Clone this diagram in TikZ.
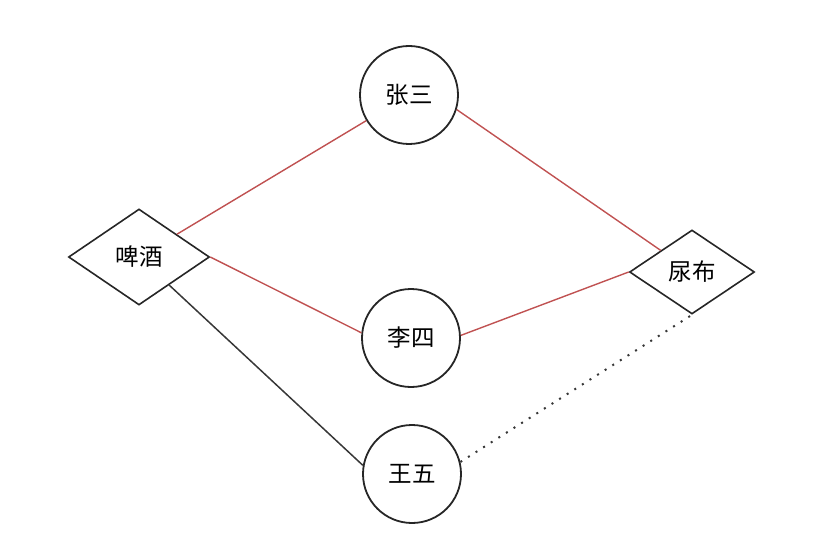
\documentclass[tikz,border=0pt]{standalone}
\usepackage{fontspec}
\setmainfont{Noto Sans CJK SC}
\usetikzlibrary{shapes.geometric}
\definecolor{linkred}{RGB}{192,82,82}
\definecolor{linkgray}{RGB}{55,55,55}
\begin{document}
\begin{tikzpicture}[x=1pt,y=-1pt,
  person/.style={circle, draw=black!85, line width=1.8pt, minimum size=98pt, inner sep=0pt, font=\fontsize{23.5}{26}\selectfont},
  item/.style={diamond, draw=black!85, line width=1.6pt, inner sep=0pt, font=\fontsize{23.5}{26}\selectfont},
  redlink/.style={draw=linkred, line width=1.4pt},
  graylink/.style={draw=linkgray, line width=1.5pt},
  dotlink/.style={draw=linkgray, line width=2pt, dash pattern=on 2pt off 7pt}]
\useasboundingbox (0,0) rectangle (824,540);
\node[person] (zs) at (409,95) {张三};
\node[person] (ls) at (411,338) {李四};
\node[person] (ww) at (412,474) {王五};
\node[item, minimum width=141pt, minimum height=96pt] (pj) at (139,257) {啤酒};
\node[item, minimum width=125pt, minimum height=84pt] (nb) at (692,272) {尿布};
\draw[redlink] (pj) -- (zs);
\draw[redlink] (pj.east) -- (ls.174);
\draw[graylink] (pj) -- (ww.170);
\draw[redlink] (zs.343) -- (nb);
\draw[redlink] (ls.3) -- (nb.west);
\draw[dotlink] (ww.14) -- (nb.south);
\end{tikzpicture}
\end{document}
